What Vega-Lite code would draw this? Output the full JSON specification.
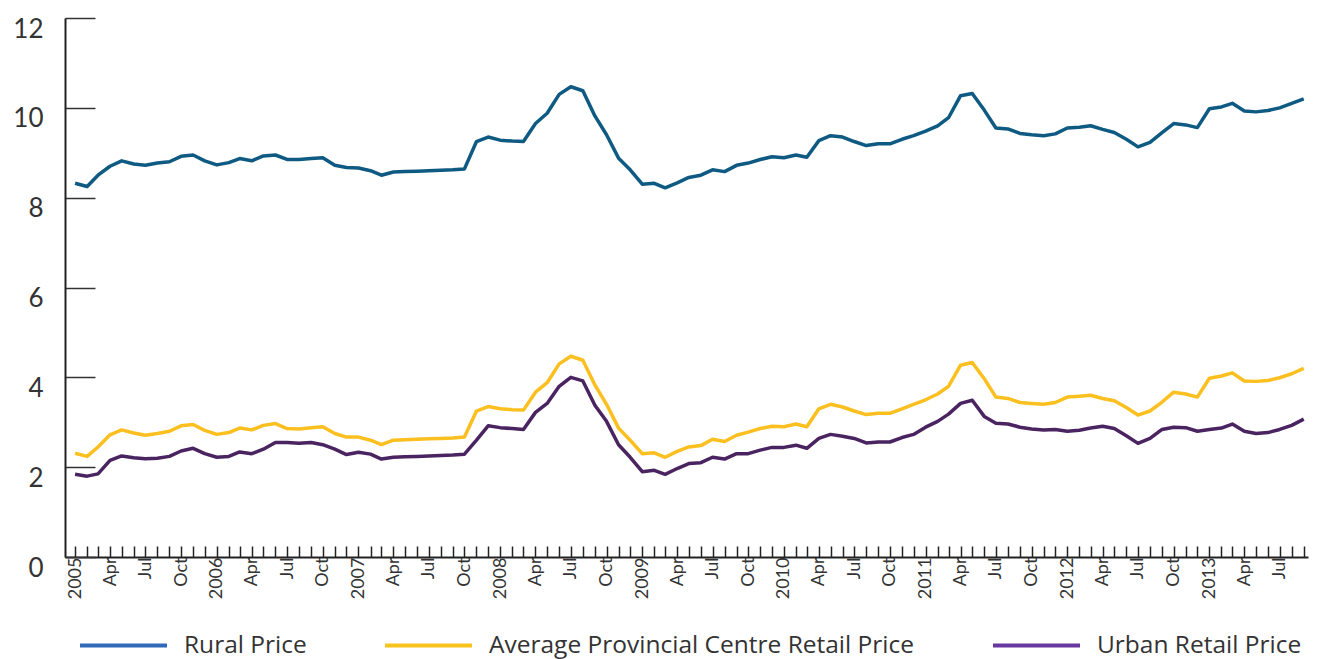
{
  "$schema": "https://vega.github.io/schema/vega-lite/v6.json",
  "width": 1243,
  "height": 539,
  "autosize": {"type": "none"},
  "padding": {"left": 65, "top": 18, "right": 16, "bottom": 102},
  "config": {"view": {"stroke": null}, "font": "Lato"},
  "data": {"values": [
    {"date": "2005/01/01", "Rural Price": 8.32, "Average Provincial Centre Retail Price": 2.31, "Urban Retail Price": 1.84},
    {"date": "2005/02/01", "Rural Price": 8.25, "Average Provincial Centre Retail Price": 2.24, "Urban Retail Price": 1.80},
    {"date": "2005/03/01", "Rural Price": 8.50, "Average Provincial Centre Retail Price": 2.45, "Urban Retail Price": 1.85},
    {"date": "2005/04/01", "Rural Price": 8.70, "Average Provincial Centre Retail Price": 2.72, "Urban Retail Price": 2.15},
    {"date": "2005/05/01", "Rural Price": 8.82, "Average Provincial Centre Retail Price": 2.83, "Urban Retail Price": 2.25},
    {"date": "2005/06/01", "Rural Price": 8.75, "Average Provincial Centre Retail Price": 2.76, "Urban Retail Price": 2.21},
    {"date": "2005/07/01", "Rural Price": 8.72, "Average Provincial Centre Retail Price": 2.71, "Urban Retail Price": 2.19},
    {"date": "2005/08/01", "Rural Price": 8.77, "Average Provincial Centre Retail Price": 2.75, "Urban Retail Price": 2.20},
    {"date": "2005/09/01", "Rural Price": 8.80, "Average Provincial Centre Retail Price": 2.80, "Urban Retail Price": 2.24},
    {"date": "2005/10/01", "Rural Price": 8.92, "Average Provincial Centre Retail Price": 2.92, "Urban Retail Price": 2.36},
    {"date": "2005/11/01", "Rural Price": 8.95, "Average Provincial Centre Retail Price": 2.95, "Urban Retail Price": 2.42},
    {"date": "2005/12/01", "Rural Price": 8.82, "Average Provincial Centre Retail Price": 2.82, "Urban Retail Price": 2.30},
    {"date": "2006/01/01", "Rural Price": 8.73, "Average Provincial Centre Retail Price": 2.73, "Urban Retail Price": 2.22},
    {"date": "2006/02/01", "Rural Price": 8.78, "Average Provincial Centre Retail Price": 2.77, "Urban Retail Price": 2.24},
    {"date": "2006/03/01", "Rural Price": 8.87, "Average Provincial Centre Retail Price": 2.87, "Urban Retail Price": 2.34},
    {"date": "2006/04/01", "Rural Price": 8.82, "Average Provincial Centre Retail Price": 2.83, "Urban Retail Price": 2.30},
    {"date": "2006/05/01", "Rural Price": 8.93, "Average Provincial Centre Retail Price": 2.93, "Urban Retail Price": 2.40},
    {"date": "2006/06/01", "Rural Price": 8.95, "Average Provincial Centre Retail Price": 2.97, "Urban Retail Price": 2.55},
    {"date": "2006/07/01", "Rural Price": 8.85, "Average Provincial Centre Retail Price": 2.86, "Urban Retail Price": 2.55},
    {"date": "2006/08/01", "Rural Price": 8.85, "Average Provincial Centre Retail Price": 2.85, "Urban Retail Price": 2.53},
    {"date": "2006/09/01", "Rural Price": 8.87, "Average Provincial Centre Retail Price": 2.88, "Urban Retail Price": 2.55},
    {"date": "2006/10/01", "Rural Price": 8.89, "Average Provincial Centre Retail Price": 2.90, "Urban Retail Price": 2.50},
    {"date": "2006/11/01", "Rural Price": 8.72, "Average Provincial Centre Retail Price": 2.75, "Urban Retail Price": 2.40},
    {"date": "2006/12/01", "Rural Price": 8.67, "Average Provincial Centre Retail Price": 2.67, "Urban Retail Price": 2.28},
    {"date": "2007/01/01", "Rural Price": 8.66, "Average Provincial Centre Retail Price": 2.67, "Urban Retail Price": 2.33},
    {"date": "2007/02/01", "Rural Price": 8.60, "Average Provincial Centre Retail Price": 2.60, "Urban Retail Price": 2.29},
    {"date": "2007/03/01", "Rural Price": 8.50, "Average Provincial Centre Retail Price": 2.50, "Urban Retail Price": 2.18},
    {"date": "2007/04/01", "Rural Price": 8.57, "Average Provincial Centre Retail Price": 2.60, "Urban Retail Price": 2.22},
    {"date": "2007/05/01", "Rural Price": 8.58, "Average Provincial Centre Retail Price": 2.61, "Urban Retail Price": 2.23},
    {"date": "2007/06/01", "Rural Price": 8.59, "Average Provincial Centre Retail Price": 2.62, "Urban Retail Price": 2.24},
    {"date": "2007/07/01", "Rural Price": 8.60, "Average Provincial Centre Retail Price": 2.63, "Urban Retail Price": 2.25},
    {"date": "2007/08/01", "Rural Price": 8.61, "Average Provincial Centre Retail Price": 2.64, "Urban Retail Price": 2.26},
    {"date": "2007/09/01", "Rural Price": 8.62, "Average Provincial Centre Retail Price": 2.65, "Urban Retail Price": 2.27},
    {"date": "2007/10/01", "Rural Price": 8.64, "Average Provincial Centre Retail Price": 2.67, "Urban Retail Price": 2.29},
    {"date": "2007/11/01", "Rural Price": 9.25, "Average Provincial Centre Retail Price": 3.25, "Urban Retail Price": 2.60},
    {"date": "2007/12/01", "Rural Price": 9.35, "Average Provincial Centre Retail Price": 3.35, "Urban Retail Price": 2.92},
    {"date": "2008/01/01", "Rural Price": 9.28, "Average Provincial Centre Retail Price": 3.30, "Urban Retail Price": 2.88},
    {"date": "2008/02/01", "Rural Price": 9.26, "Average Provincial Centre Retail Price": 3.28, "Urban Retail Price": 2.86},
    {"date": "2008/03/01", "Rural Price": 9.25, "Average Provincial Centre Retail Price": 3.27, "Urban Retail Price": 2.84},
    {"date": "2008/04/01", "Rural Price": 9.65, "Average Provincial Centre Retail Price": 3.67, "Urban Retail Price": 3.22},
    {"date": "2008/05/01", "Rural Price": 9.88, "Average Provincial Centre Retail Price": 3.88, "Urban Retail Price": 3.42},
    {"date": "2008/06/01", "Rural Price": 10.30, "Average Provincial Centre Retail Price": 4.30, "Urban Retail Price": 3.80},
    {"date": "2008/07/01", "Rural Price": 10.47, "Average Provincial Centre Retail Price": 4.47, "Urban Retail Price": 4.00},
    {"date": "2008/08/01", "Rural Price": 10.38, "Average Provincial Centre Retail Price": 4.38, "Urban Retail Price": 3.92},
    {"date": "2008/09/01", "Rural Price": 9.82, "Average Provincial Centre Retail Price": 3.83, "Urban Retail Price": 3.38},
    {"date": "2008/10/01", "Rural Price": 9.40, "Average Provincial Centre Retail Price": 3.40, "Urban Retail Price": 3.02},
    {"date": "2008/11/01", "Rural Price": 8.88, "Average Provincial Centre Retail Price": 2.87, "Urban Retail Price": 2.50},
    {"date": "2008/12/01", "Rural Price": 8.62, "Average Provincial Centre Retail Price": 2.60, "Urban Retail Price": 2.22},
    {"date": "2009/01/01", "Rural Price": 8.30, "Average Provincial Centre Retail Price": 2.30, "Urban Retail Price": 1.90},
    {"date": "2009/02/01", "Rural Price": 8.32, "Average Provincial Centre Retail Price": 2.32, "Urban Retail Price": 1.93},
    {"date": "2009/03/01", "Rural Price": 8.22, "Average Provincial Centre Retail Price": 2.22, "Urban Retail Price": 1.84},
    {"date": "2009/04/01", "Rural Price": 8.33, "Average Provincial Centre Retail Price": 2.35, "Urban Retail Price": 1.97},
    {"date": "2009/05/01", "Rural Price": 8.45, "Average Provincial Centre Retail Price": 2.45, "Urban Retail Price": 2.08},
    {"date": "2009/06/01", "Rural Price": 8.50, "Average Provincial Centre Retail Price": 2.48, "Urban Retail Price": 2.10},
    {"date": "2009/07/01", "Rural Price": 8.62, "Average Provincial Centre Retail Price": 2.62, "Urban Retail Price": 2.22},
    {"date": "2009/08/01", "Rural Price": 8.58, "Average Provincial Centre Retail Price": 2.57, "Urban Retail Price": 2.18},
    {"date": "2009/09/01", "Rural Price": 8.72, "Average Provincial Centre Retail Price": 2.71, "Urban Retail Price": 2.30},
    {"date": "2009/10/01", "Rural Price": 8.77, "Average Provincial Centre Retail Price": 2.78, "Urban Retail Price": 2.30},
    {"date": "2009/11/01", "Rural Price": 8.85, "Average Provincial Centre Retail Price": 2.86, "Urban Retail Price": 2.38},
    {"date": "2009/12/01", "Rural Price": 8.91, "Average Provincial Centre Retail Price": 2.91, "Urban Retail Price": 2.44},
    {"date": "2010/01/01", "Rural Price": 8.89, "Average Provincial Centre Retail Price": 2.90, "Urban Retail Price": 2.44},
    {"date": "2010/02/01", "Rural Price": 8.95, "Average Provincial Centre Retail Price": 2.96, "Urban Retail Price": 2.49},
    {"date": "2010/03/01", "Rural Price": 8.90, "Average Provincial Centre Retail Price": 2.90, "Urban Retail Price": 2.42},
    {"date": "2010/04/01", "Rural Price": 9.27, "Average Provincial Centre Retail Price": 3.30, "Urban Retail Price": 2.64},
    {"date": "2010/05/01", "Rural Price": 9.38, "Average Provincial Centre Retail Price": 3.40, "Urban Retail Price": 2.73},
    {"date": "2010/06/01", "Rural Price": 9.35, "Average Provincial Centre Retail Price": 3.34, "Urban Retail Price": 2.69},
    {"date": "2010/07/01", "Rural Price": 9.25, "Average Provincial Centre Retail Price": 3.25, "Urban Retail Price": 2.64},
    {"date": "2010/08/01", "Rural Price": 9.16, "Average Provincial Centre Retail Price": 3.17, "Urban Retail Price": 2.54},
    {"date": "2010/09/01", "Rural Price": 9.20, "Average Provincial Centre Retail Price": 3.20, "Urban Retail Price": 2.56},
    {"date": "2010/10/01", "Rural Price": 9.20, "Average Provincial Centre Retail Price": 3.20, "Urban Retail Price": 2.56},
    {"date": "2010/11/01", "Rural Price": 9.30, "Average Provincial Centre Retail Price": 3.30, "Urban Retail Price": 2.66},
    {"date": "2010/12/01", "Rural Price": 9.38, "Average Provincial Centre Retail Price": 3.40, "Urban Retail Price": 2.73},
    {"date": "2011/01/01", "Rural Price": 9.48, "Average Provincial Centre Retail Price": 3.50, "Urban Retail Price": 2.89},
    {"date": "2011/02/01", "Rural Price": 9.60, "Average Provincial Centre Retail Price": 3.63, "Urban Retail Price": 3.02},
    {"date": "2011/03/01", "Rural Price": 9.78, "Average Provincial Centre Retail Price": 3.80, "Urban Retail Price": 3.18},
    {"date": "2011/04/01", "Rural Price": 10.27, "Average Provincial Centre Retail Price": 4.27, "Urban Retail Price": 3.42},
    {"date": "2011/05/01", "Rural Price": 10.32, "Average Provincial Centre Retail Price": 4.33, "Urban Retail Price": 3.49},
    {"date": "2011/06/01", "Rural Price": 9.95, "Average Provincial Centre Retail Price": 3.97, "Urban Retail Price": 3.13},
    {"date": "2011/07/01", "Rural Price": 9.55, "Average Provincial Centre Retail Price": 3.56, "Urban Retail Price": 2.98},
    {"date": "2011/08/01", "Rural Price": 9.53, "Average Provincial Centre Retail Price": 3.53, "Urban Retail Price": 2.96},
    {"date": "2011/09/01", "Rural Price": 9.43, "Average Provincial Centre Retail Price": 3.44, "Urban Retail Price": 2.89},
    {"date": "2011/10/01", "Rural Price": 9.40, "Average Provincial Centre Retail Price": 3.42, "Urban Retail Price": 2.85},
    {"date": "2011/11/01", "Rural Price": 9.38, "Average Provincial Centre Retail Price": 3.40, "Urban Retail Price": 2.83},
    {"date": "2011/12/01", "Rural Price": 9.42, "Average Provincial Centre Retail Price": 3.44, "Urban Retail Price": 2.84},
    {"date": "2012/01/01", "Rural Price": 9.55, "Average Provincial Centre Retail Price": 3.56, "Urban Retail Price": 2.80},
    {"date": "2012/02/01", "Rural Price": 9.57, "Average Provincial Centre Retail Price": 3.58, "Urban Retail Price": 2.82},
    {"date": "2012/03/01", "Rural Price": 9.60, "Average Provincial Centre Retail Price": 3.60, "Urban Retail Price": 2.87},
    {"date": "2012/04/01", "Rural Price": 9.52, "Average Provincial Centre Retail Price": 3.53, "Urban Retail Price": 2.91},
    {"date": "2012/05/01", "Rural Price": 9.45, "Average Provincial Centre Retail Price": 3.48, "Urban Retail Price": 2.86},
    {"date": "2012/06/01", "Rural Price": 9.30, "Average Provincial Centre Retail Price": 3.33, "Urban Retail Price": 2.70},
    {"date": "2012/07/01", "Rural Price": 9.13, "Average Provincial Centre Retail Price": 3.16, "Urban Retail Price": 2.53},
    {"date": "2012/08/01", "Rural Price": 9.23, "Average Provincial Centre Retail Price": 3.25, "Urban Retail Price": 2.64},
    {"date": "2012/09/01", "Rural Price": 9.45, "Average Provincial Centre Retail Price": 3.45, "Urban Retail Price": 2.84},
    {"date": "2012/10/01", "Rural Price": 9.65, "Average Provincial Centre Retail Price": 3.67, "Urban Retail Price": 2.89},
    {"date": "2012/11/01", "Rural Price": 9.62, "Average Provincial Centre Retail Price": 3.63, "Urban Retail Price": 2.88},
    {"date": "2012/12/01", "Rural Price": 9.56, "Average Provincial Centre Retail Price": 3.56, "Urban Retail Price": 2.80},
    {"date": "2013/01/01", "Rural Price": 9.98, "Average Provincial Centre Retail Price": 3.98, "Urban Retail Price": 2.84},
    {"date": "2013/02/01", "Rural Price": 10.02, "Average Provincial Centre Retail Price": 4.03, "Urban Retail Price": 2.87},
    {"date": "2013/03/01", "Rural Price": 10.10, "Average Provincial Centre Retail Price": 4.10, "Urban Retail Price": 2.96},
    {"date": "2013/04/01", "Rural Price": 9.93, "Average Provincial Centre Retail Price": 3.92, "Urban Retail Price": 2.80},
    {"date": "2013/05/01", "Rural Price": 9.91, "Average Provincial Centre Retail Price": 3.91, "Urban Retail Price": 2.75},
    {"date": "2013/06/01", "Rural Price": 9.94, "Average Provincial Centre Retail Price": 3.93, "Urban Retail Price": 2.77},
    {"date": "2013/07/01", "Rural Price": 10.00, "Average Provincial Centre Retail Price": 3.99, "Urban Retail Price": 2.84},
    {"date": "2013/08/01", "Rural Price": 10.10, "Average Provincial Centre Retail Price": 4.08, "Urban Retail Price": 2.93},
    {"date": "2013/09/01", "Rural Price": 10.20, "Average Provincial Centre Retail Price": 4.20, "Urban Retail Price": 3.07}
  ]},
  "transform": [
    {"fold": ["Rural Price", "Average Provincial Centre Retail Price", "Urban Retail Price"], "as": ["series", "price"]}
  ],
  "encoding": {
    "x": {
      "field": "date",
      "type": "temporal",
      "scale": {"domain": [{"year": 2004, "month": 12, "date": 6}, {"year": 2013, "month": 9, "date": 12}]},
      "axis": {
        "title": null,
        "tickCount": {"interval": "month", "step": 1},
        "labelExpr": "month(datum.value) == 0 ? timeFormat(datum.value, '%Y') : (month(datum.value) % 3 == 0 ? timeFormat(datum.value, '%b') : '')",
        "labelAngle": 270,
        "labelFontSize": 18,
        "labelColor": "#333333",
        "labelPadding": 11,
        "labelOverlap": false,
        "labelFlush": false,
        "labelBound": false,
        "tickSize": -11,
        "tickColor": "#222222",
        "tickWidth": 1.5,
        "domainColor": "#222222",
        "domainWidth": 2,
        "grid": false
      }
    },
    "y": {
      "field": "price",
      "type": "quantitative",
      "scale": {"domain": [0, 12]},
      "axis": {
        "title": null,
        "values": [0, 2, 4, 6, 8, 10, 12],
        "tickSize": -30,
        "tickColor": "#333333",
        "tickWidth": 1.5,
        "labelPadding": 52,
        "labelFontSize": 26,
        "labelBaseline": "top",
        "labelOffset": -2,
        "labelColor": "#333333",
        "domainColor": "#222222",
        "domainWidth": 2,
        "grid": false
      }
    }
  },
  "layer": [
    {
      "transform": [{"filter": "datum.series == 'Rural Price'"}],
      "mark": {"type": "line", "strokeWidth": 3.5, "strokeJoin": "round", "color": "#0f5a82"}
    },
    {
      "transform": [{"filter": "datum.series == 'Average Provincial Centre Retail Price'"}],
      "mark": {"type": "line", "strokeWidth": 3.5, "strokeJoin": "round", "color": "#fbbf1f"}
    },
    {
      "transform": [{"filter": "datum.series == 'Urban Retail Price'"}],
      "mark": {"type": "line", "strokeWidth": 3.5, "strokeJoin": "round", "color": "#4a2461"}
    },
    {
      "mark": {"type": "line", "opacity": 0, "strokeWidth": 4},
      "encoding": {
        "color": {
          "field": "series",
          "type": "nominal",
          "scale": {"domain": ["Rural Price", "Average Provincial Centre Retail Price", "Urban Retail Price"], "range": ["#3069b8", "#f7c31c", "#6838a0"]},
          "legend": {
            "title": null,
            "orient": "none",
            "legendX": 13,
            "legendY": 582,
            "direction": "horizontal",
            "symbolType": "stroke",
            "symbolSize": 7569,
            "symbolStrokeWidth": 4,
            "symbolOpacity": 1,
            "labelFont": "Open Sans",
            "labelFontSize": 24.5,
            "labelColor": "#333333",
            "labelOffset": 15,
            "labelLimit": 1000,
            "columnPadding": 70,
            "encode": {"symbols": {"update": {"opacity": {"value": 1}, "strokeOpacity": {"value": 1}, "strokeWidth": {"value": 4}}}}
          }
        }
      }
    }
  ]
}
